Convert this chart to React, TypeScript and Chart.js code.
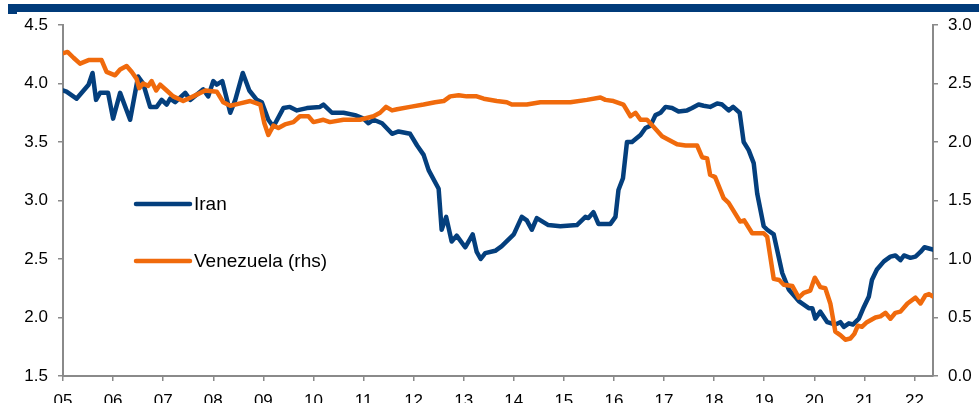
import React, { useEffect, useRef } from "react";
import { Chart, registerables } from "chart.js";

Chart.register(...registerables);

const xTickYears = [2005, 2006, 2007, 2008, 2009, 2010, 2011, 2012, 2013, 2014, 2015, 2016, 2017, 2018, 2019, 2020, 2021, 2022];
const leftTicks = [1.5, 2.0, 2.5, 3.0, 3.5, 4.0, 4.5];
const rightTicks = [0.0, 0.5, 1.0, 1.5, 2.0, 2.5, 3.0];

const iranDates = [
  2005.01, 2005.07, 2005.27, 2005.51, 2005.59, 2005.66, 2005.74, 2005.9, 2006.0, 2006.14,
  2006.34, 2006.5, 2006.6, 2006.74, 2006.87, 2006.97, 2007.07, 2007.14, 2007.24, 2007.44,
  2007.54, 2007.8, 2007.9, 2008.0, 2008.07, 2008.18, 2008.34, 2008.44, 2008.59, 2008.72,
  2008.87, 2008.97, 2009.1, 2009.2, 2009.4, 2009.53, 2009.67, 2009.87, 2010.13, 2010.2,
  2010.37, 2010.6, 2010.83, 2011.0, 2011.1, 2011.2, 2011.37, 2011.57, 2011.7, 2011.93,
  2012.07, 2012.2, 2012.3, 2012.5, 2012.56, 2012.65, 2012.76, 2012.86, 2013.03, 2013.18,
  2013.26, 2013.34, 2013.43, 2013.63, 2013.76, 2014.0, 2014.16, 2014.26, 2014.36, 2014.46,
  2014.69, 2014.93, 2015.26, 2015.43, 2015.49, 2015.59, 2015.69, 2015.93, 2016.03, 2016.09,
  2016.18, 2016.26, 2016.36, 2016.53, 2016.63, 2016.73, 2016.83, 2016.93, 2017.03, 2017.16,
  2017.29, 2017.46, 2017.56, 2017.69, 2017.79, 2017.92, 2018.06, 2018.16, 2018.29, 2018.38,
  2018.51, 2018.59, 2018.69, 2018.79, 2018.86, 2018.99, 2019.06, 2019.19, 2019.36, 2019.49,
  2019.69, 2019.89, 2019.96, 2020.02, 2020.12, 2020.26, 2020.42, 2020.52, 2020.59, 2020.69,
  2020.77, 2020.89, 2020.99, 2021.09, 2021.15, 2021.25, 2021.39, 2021.52, 2021.62, 2021.72,
  2021.79, 2021.92, 2022.02, 2022.12, 2022.2, 2022.29, 2022.37,
];
const iranValues = [
  3.94, 3.93, 3.87, 3.99, 4.09, 3.86, 3.92, 3.92, 3.7, 3.92,
  3.69, 4.06, 4.0, 3.8, 3.8, 3.86, 3.82, 3.87, 3.84, 3.92,
  3.86, 3.95, 3.89, 4.02, 3.99, 4.02, 3.75, 3.86, 4.09, 3.94,
  3.86, 3.84, 3.69, 3.63, 3.79, 3.8, 3.77, 3.79, 3.8, 3.82,
  3.75, 3.75, 3.73, 3.7, 3.66, 3.69, 3.66, 3.57, 3.59, 3.57,
  3.47, 3.39, 3.26, 3.1, 2.75, 2.86, 2.65, 2.7, 2.6, 2.71,
  2.56, 2.5, 2.55, 2.57, 2.61, 2.71, 2.86, 2.83, 2.75, 2.85,
  2.79, 2.78, 2.79, 2.86, 2.85, 2.9, 2.8, 2.8, 2.86, 3.09,
  3.19, 3.5, 3.5, 3.56, 3.62, 3.64, 3.73, 3.75, 3.8, 3.79,
  3.76, 3.77, 3.79, 3.82, 3.81, 3.8, 3.83, 3.82, 3.77, 3.8,
  3.75, 3.5, 3.43, 3.32, 3.06, 2.78, 2.75, 2.71, 2.38, 2.24,
  2.14, 2.08, 2.08, 1.99, 2.05, 1.96, 1.94, 1.96, 1.92, 1.95,
  1.94, 1.99, 2.09, 2.18, 2.32, 2.41, 2.48, 2.52, 2.53, 2.49,
  2.53, 2.51, 2.52, 2.56, 2.6, 2.59, 2.58,
];

const venezuelaDates = [
  2005.01, 2005.09, 2005.21, 2005.34, 2005.51, 2005.77, 2005.87, 2006.04, 2006.14, 2006.27,
  2006.37, 2006.47, 2006.52, 2006.6, 2006.7, 2006.77, 2006.86, 2006.94, 2007.07, 2007.2,
  2007.4, 2007.6, 2007.84, 2008.07, 2008.2, 2008.34, 2008.54, 2008.74, 2008.94, 2009.02,
  2009.1, 2009.2, 2009.3, 2009.43, 2009.6, 2009.73, 2009.9, 2010.0, 2010.2, 2010.33,
  2010.6, 2010.93, 2011.2, 2011.33, 2011.45, 2011.57, 2011.67, 2011.93, 2012.2, 2012.43,
  2012.6, 2012.73, 2012.9, 2013.06, 2013.26, 2013.4, 2013.66, 2013.86, 2013.96, 2014.26,
  2014.53, 2015.13, 2015.46, 2015.73, 2015.83, 2015.99, 2016.19, 2016.33, 2016.43, 2016.53,
  2016.66, 2016.79, 2016.96, 2017.09, 2017.26, 2017.43, 2017.66, 2017.76, 2017.86, 2017.92,
  2018.02, 2018.19, 2018.29, 2018.52, 2018.6, 2018.76, 2018.99, 2019.06, 2019.19, 2019.3,
  2019.39, 2019.56, 2019.69, 2019.79, 2019.92, 2020.01, 2020.12, 2020.22, 2020.32, 2020.42,
  2020.52, 2020.62, 2020.72, 2020.8, 2020.87, 2020.95, 2021.05, 2021.22, 2021.32, 2021.42,
  2021.52, 2021.62, 2021.72, 2021.86, 2022.02, 2022.12, 2022.22, 2022.29, 2022.37,
];
const venezuelaValues = [
  2.76, 2.77, 2.72, 2.67, 2.7, 2.7, 2.6, 2.57, 2.62, 2.65,
  2.6, 2.54, 2.46, 2.5, 2.48, 2.52, 2.44, 2.49, 2.44, 2.39,
  2.35, 2.39, 2.44, 2.43, 2.34, 2.31, 2.33, 2.35, 2.32, 2.16,
  2.06, 2.14, 2.12, 2.15, 2.17, 2.22, 2.22, 2.17, 2.19, 2.17,
  2.19, 2.19, 2.22, 2.25, 2.3, 2.27, 2.28, 2.3, 2.32, 2.34,
  2.35, 2.39, 2.4, 2.39, 2.39, 2.37, 2.35, 2.34, 2.32, 2.32,
  2.34, 2.34, 2.36, 2.38, 2.36, 2.35, 2.32, 2.22, 2.25, 2.19,
  2.19, 2.13, 2.05, 2.02, 1.98, 1.97, 1.97, 1.87, 1.86, 1.72,
  1.7, 1.52, 1.48, 1.32, 1.33, 1.22, 1.22, 1.19, 0.83, 0.82,
  0.78, 0.77, 0.67, 0.71, 0.73, 0.84, 0.76, 0.75, 0.62, 0.38,
  0.35, 0.31, 0.32, 0.36, 0.43, 0.42, 0.46, 0.5, 0.51, 0.54,
  0.49, 0.54, 0.55, 0.62, 0.67, 0.62, 0.69, 0.7, 0.68,
];

const seriesLabels = ["Iran", "Venezuela (rhs)"];
const IRAN_COLOR = "#043F7D";
const VEN_COLOR = "#F06A0C";
const AXIS_COLOR = "#8A8A8A";
const FONT = "'Liberation Sans', Arial, sans-serif";

const legendPlugin = {
  id: "insideLegend",
  afterDraw(chart: any) {
    const ctx = chart.ctx;
    const area = chart.chartArea;
    const x0 = area.left + 73;
    const rows = [area.top + 179, area.top + 236];
    ctx.save();
    chart.data.datasets.forEach((ds: any, i: number) => {
      const y = rows[i];
      ctx.strokeStyle = ds.borderColor;
      ctx.lineWidth = 4.5;
      ctx.lineCap = "round";
      ctx.beginPath();
      ctx.moveTo(x0, y);
      ctx.lineTo(x0 + 54, y);
      ctx.stroke();
      ctx.fillStyle = "#000";
      ctx.font = `19px ${FONT}`;
      ctx.textBaseline = "middle";
      ctx.textAlign = "left";
      ctx.fillText(ds.label, x0 + 58, y + 1);
    });
    ctx.restore();
  },
};

export default function App() {
  const ref = useRef<HTMLCanvasElement>(null);

  useEffect(() => {
    if (!ref.current) return;
    const iranData = iranDates.map((d, i) => ({ x: d, y: iranValues[i] }));
    const venData = venezuelaDates.map((d, i) => ({ x: d, y: venezuelaValues[i] }));
    const tickFont = { family: FONT, size: 17 };
    const chart = new Chart(ref.current, {
      type: "line",
      data: {
        datasets: [
          {
            label: seriesLabels[0],
            data: iranData,
            borderColor: IRAN_COLOR,
            backgroundColor: IRAN_COLOR,
            borderWidth: 4.5,
            pointRadius: 0,
            tension: 0,
            borderJoinStyle: "round",
            borderCapStyle: "round",
            yAxisID: "y",
            order: 2,
          },
          {
            label: seriesLabels[1],
            data: venData,
            borderColor: VEN_COLOR,
            backgroundColor: VEN_COLOR,
            borderWidth: 4.5,
            pointRadius: 0,
            tension: 0,
            borderJoinStyle: "round",
            borderCapStyle: "round",
            yAxisID: "y1",
            order: 1,
          },
        ],
      },
      options: {
        animation: false,
        responsive: false,
        maintainAspectRatio: false,
        layout: { padding: { top: 25, left: 0, right: 0, bottom: 0 } },
        plugins: { legend: { display: false }, tooltip: { enabled: false }, title: { display: false } },
        scales: {
          x: {
            type: "linear",
            min: 2005,
            max: 2022.37,
            afterBuildTicks: (s: any) => {
              s.ticks = xTickYears.map((v) => ({ value: v }));
            },
            afterFit: (s: any) => {
              s.height = 27;
            },
            ticks: {
              autoSkip: false,
              maxRotation: 0,
              color: "#000",
              font: tickFont,
              padding: 10,
              callback: (v: any) => String(Math.round(v) % 100).padStart(2, "0"),
            },
            grid: { drawOnChartArea: false, drawTicks: true, tickLength: 5, color: AXIS_COLOR, lineWidth: 1.5 },
            border: { display: true, color: AXIS_COLOR, width: 2 },
          },
          y: {
            position: "left",
            min: 1.5,
            max: 4.5,
            afterBuildTicks: (s: any) => {
              s.ticks = leftTicks.map((v) => ({ value: v }));
            },
            afterFit: (s: any) => {
              s.width = 63;
            },
            ticks: {
              color: "#000",
              font: tickFont,
              padding: 10,
              callback: (v: any) => Number(v).toFixed(1),
            },
            grid: { drawOnChartArea: false, drawTicks: true, tickLength: 5, color: AXIS_COLOR, lineWidth: 1.5 },
            border: { display: true, color: AXIS_COLOR, width: 2 },
          },
          y1: {
            position: "right",
            min: 0,
            max: 3,
            afterBuildTicks: (s: any) => {
              s.ticks = rightTicks.map((v) => ({ value: v }));
            },
            afterFit: (s: any) => {
              s.width = 46;
            },
            ticks: {
              color: "#000",
              font: tickFont,
              padding: 10,
              callback: (v: any) => Number(v).toFixed(1),
            },
            grid: { drawOnChartArea: false, drawTicks: true, tickLength: 5, color: AXIS_COLOR, lineWidth: 1.5 },
            border: { display: true, color: AXIS_COLOR, width: 2 },
          },
        },
      },
      plugins: [legendPlugin],
    } as any);
    return () => chart.destroy();
  }, []);

  return (
    <div style={{ position: "absolute", left: 0, top: 0, width: 979, height: 403, background: "#fff", overflow: "hidden" }}>
      <div style={{ position: "absolute", left: 8, top: 4, width: 971, height: 8, background: "#003B7A" }} />
      <div style={{ position: "absolute", left: 8, top: 12, width: 9, height: 2, background: "#003B7A" }} />
      <canvas ref={ref} width={979} height={403} style={{ position: "absolute", left: 0, top: 0, width: 979, height: 403 }} />
    </div>
  );
}
